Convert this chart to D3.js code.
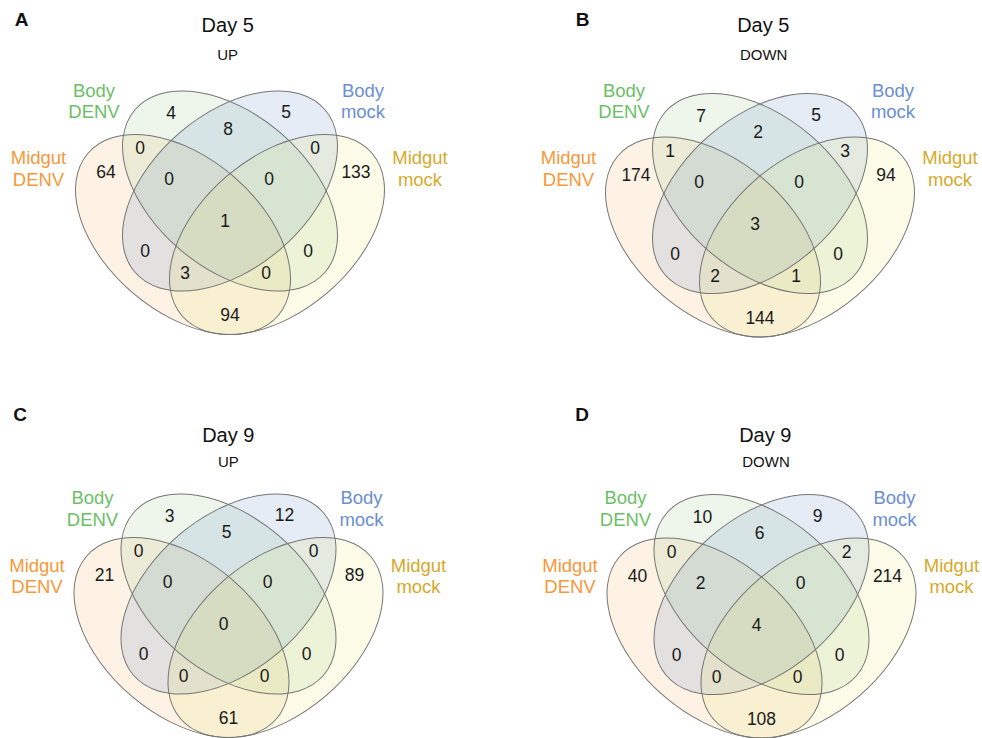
<!DOCTYPE html>
<html>
<head>
<meta charset="utf-8">
<script src="https://cdn.jsdelivr.net/npm/d3@7"></script>
<style>
  body { margin: 0; background: #fff; }
  text { font-family: Helvetica, Arial, "Liberation Sans", sans-serif; }
</style>
</head>
<body>
<svg id="chart" width="982" height="738"></svg>
<script>
// set names, drawn in this order
const setNames = ["Midgut DENV", "Body DENV", "Body mock", "Midgut mock"];

// region keys: o = Midgut DENV, g = Body DENV, b = Body mock, y = Midgut mock
const regionKeys = ["g", "b", "gb", "og", "by", "o", "y", "ogb", "gby", "ogby", "ob", "gy", "oby", "ogy", "oy"];

// counts per region, same order as regionKeys
const day5Up   = [4, 5, 8, 0, 0, 64, 133, 0, 0, 1, 0, 0, 3, 0, 94];
const day5Down = [7, 5, 2, 1, 3, 174, 94, 0, 0, 3, 0, 0, 2, 1, 144];
const day9Up   = [3, 12, 5, 0, 0, 21, 89, 0, 0, 0, 0, 0, 0, 0, 61];
const day9Down = [10, 9, 6, 0, 2, 40, 214, 2, 0, 4, 0, 0, 0, 0, 108];

const panelLetters = ["A", "B", "C", "D"];
const panelDays = ["Day 5", "Day 5", "Day 9", "Day 9"];
const panelDirs = ["UP", "DOWN", "UP", "DOWN"];
const panelCounts = [day5Up, day5Down, day9Up, day9Down];

// ---- layout ----
const panels = [
  { X: 230,   Y: 173,   letter: [21.7, 26],  title: [227.7, 32.3], sub: [227.7, 60],  labTop: 96.7 },
  { X: 760,   Y: 175.5, letter: [582.7, 26], title: [763.3, 32.3], sub: [763.7, 60],  labTop: 96.7 },
  { X: 228.5, Y: 576,   letter: [20, 420.7], title: [228.3, 441.7], sub: [228.3, 467.3], labTop: 504 },
  { X: 761.5, Y: 576.5, letter: [582, 420.7], title: [765.3, 441.7], sub: [766, 467.3], labTop: 504 }
];

// ellipse geometry relative to the central crossing point
const ellipses = [
  { cx: -47, cy: 61.5, rot: 40.4,  fill: "#f2a84b" },
  { cx: 0,   cy: 18,   rot: 40.4,  fill: "#8ec380" },
  { cx: 0,   cy: 18,   rot: -40.4, fill: "#5280c3" },
  { cx: 47,  cy: 61.5, rot: -40.4, fill: "#e4e466" }
];
const RX = 125, RY = 77;

const regionPos = {
  g: [-59, -60], b: [56, -61], gb: [-2, -44],
  og: [-90, -25], by: [85, -25],
  o: [-124, -1], y: [126, -1],
  ogb: [-61, 6], gby: [39, 6],
  ogby: [-5, 48],
  ob: [-85, 78], gy: [78, 78],
  oby: [-45, 100], ogy: [36, 100],
  oy: [0, 142]
};

const catLabels = [
  { lines: ["Midgut", "DENV"], dx: -191.5, dy: 67.6, color: "#f7983a" },
  { lines: ["Body", "DENV"],   dx: -136,   dy: 0,    color: "#6cbf66" },
  { lines: ["Body", "mock"],   dx: 133,    dy: 0,    color: "#6a8fd2" },
  { lines: ["Midgut", "mock"], dx: 190,    dy: 67.6, color: "#d5aa2b" }
];

const svg = d3.select("#chart");

panels.forEach((p, pi) => {
  const x = d3.scaleLinear().domain([0, 100]).range([p.X, p.X + 100]);
  const y = d3.scaleLinear().domain([0, 100]).range([p.Y, p.Y + 100]);
  const g = svg.append("g");

  g.append("text")
    .attr("x", p.letter[0]).attr("y", p.letter[1])
    .attr("text-anchor", "middle")
    .attr("font-size", 19).attr("font-weight", "bold").attr("fill", "#111")
    .text(panelLetters[pi]);

  g.append("text")
    .attr("x", p.title[0]).attr("y", p.title[1])
    .attr("text-anchor", "middle")
    .attr("font-size", 20).attr("fill", "#111")
    .text(panelDays[pi]);

  g.append("text")
    .attr("x", p.sub[0]).attr("y", p.sub[1])
    .attr("text-anchor", "middle")
    .attr("font-size", 15).attr("fill", "#111")
    .text(panelDirs[pi]);

  // fills
  g.selectAll(".fill").data(ellipses).join("ellipse")
    .attr("class", "fill")
    .attr("cx", 0).attr("cy", 0)
    .attr("rx", RX).attr("ry", RY)
    .attr("transform", d => `translate(${x(d.cx)},${y(d.cy)}) rotate(${d.rot})`)
    .attr("fill", d => d.fill)
    .attr("fill-opacity", 0.15)
    .attr("stroke", "none");

  // outlines
  g.selectAll(".edge").data(ellipses).join("ellipse")
    .attr("class", "edge")
    .attr("cx", 0).attr("cy", 0)
    .attr("rx", RX).attr("ry", RY)
    .attr("transform", d => `translate(${x(d.cx)},${y(d.cy)}) rotate(${d.rot})`)
    .attr("fill", "none")
    .attr("stroke", "#757575")
    .attr("stroke-width", 1);

  // region counts
  const counts = panelCounts[pi];
  g.selectAll(".count").data(regionKeys).join("text")
    .attr("class", "count")
    .attr("x", k => x(regionPos[k][0]))
    .attr("y", k => y(regionPos[k][1]) + 6)
    .attr("text-anchor", "middle")
    .attr("font-size", 17.5).attr("fill", "#1a1a1a")
    .text((k, i) => counts[i]);

  // set labels
  catLabels.forEach((c, ci) => {
    c.lines.forEach((ln, li) => {
      g.append("text")
        .attr("x", x(c.dx))
        .attr("y", p.labTop + c.dy + li * 21.6)
        .attr("text-anchor", "middle")
        .attr("font-size", 18.5)
        .attr("fill", c.color)
        .text(ln);
    });
  });
});
</script>
</body>
</html>
